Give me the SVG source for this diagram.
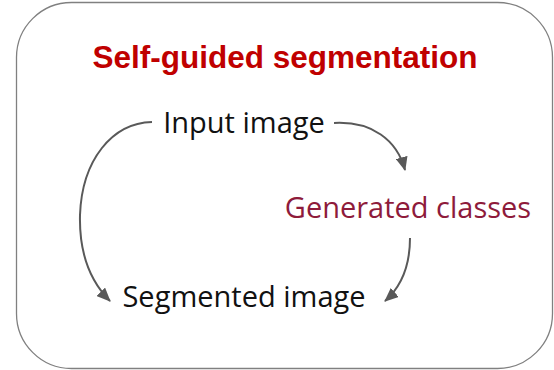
<svg xmlns="http://www.w3.org/2000/svg" width="554" height="370" viewBox="0 0 554 370">
  <defs>
    <style>
      .label { font-family: "Open Sans", "Liberation Sans", sans-serif; font-size: 29px; text-anchor: middle; }
      .title { font-family: "Liberation Sans", Arial, sans-serif; font-size: 31.5px; font-weight: bold; fill: #c00000; text-anchor: middle; }
      .edge { fill: none; stroke: #595959; stroke-width: 2; marker-end: url(#head); }
    </style>
    <marker id="head" viewBox="0 0 14 12" refX="13" refY="6" markerWidth="14" markerHeight="12" markerUnits="userSpaceOnUse" orient="auto">
      <path d="M0,0 L14,6 L0,12 Z" fill="#595959"/>
    </marker>
  </defs>
  <rect width="554" height="370" fill="#ffffff"/>
  <!-- outer frame -->
  <rect x="16.5" y="2.5" width="536" height="366" rx="55" ry="55" fill="#ffffff" stroke="#808080" stroke-width="1.3"/>

  <text class="title" x="285" y="68">Self-guided segmentation</text>

  <g id="input-image">
    <text class="label" x="244" y="133" fill="#111111">Input image</text>
  </g>
  <g id="generated-classes">
    <text class="label" x="408" y="218" fill="#8e1b3b">Generated classes</text>
  </g>
  <g id="segmented-image">
    <text class="label" x="244" y="307" fill="#111111">Segmented image</text>
  </g>

  <g id="connectors">
    <path class="edge" d="M152,122 C112,123 82,160 80,215 C79,255 92,283 110,301"/>
    <path class="edge" d="M334,123 C372,121 397,140 405,170"/>
    <path class="edge" d="M410,238 C410,266 402,286 385,301"/>
  </g>
</svg>
